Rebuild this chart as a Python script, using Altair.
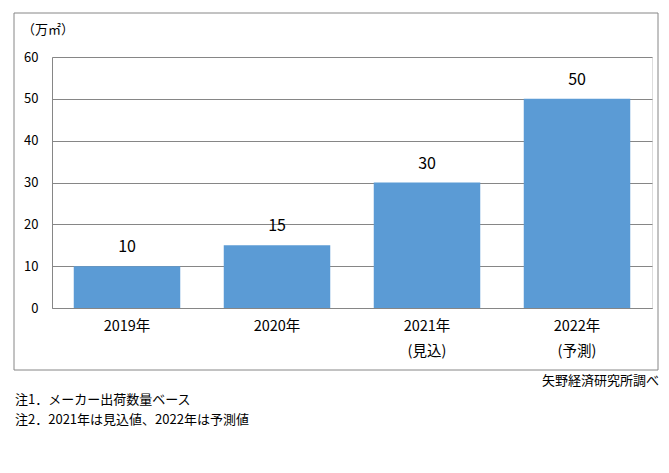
import altair as alt
import pandas as pd

categories = ["2019年", "2020年", "2021年\n(見込)", "2022年\n(予測)"]
values = [10, 15, 30, 50]
y_ticks = [0, 10, 20, 30, 40, 50, 60]
unit_label = "（万㎡）"
source_label = "矢野経済研究所調べ"
notes = ["注1．メーカー出荷数量ベース", "注2．2021年は見込値、2022年は予測値"]

FONT = "Noto Sans CJK JP"
GRAY = "#868686"

df = pd.DataFrame({"cat": categories, "val": values})

x_enc = alt.X("cat:N", sort=None, title=None,
              scale=alt.Scale(paddingInner=0.29, paddingOuter=0.145),
              axis=alt.Axis(labelAngle=0, labelExpr="split(datum.value, '\\n')",
                            labelLineHeight=25, labelPadding=11, ticks=False,
                            domainColor=GRAY, labelFontSize=14.5, labelColor="#000000",
                            labelFont=FONT, labelBaseline="top"))
y_enc = alt.Y("val:Q", title=None,
              scale=alt.Scale(domain=[0, 60], nice=False),
              axis=alt.Axis(values=y_ticks, ticks=False, labelPadding=14,
                            domainColor=GRAY, gridColor=GRAY, grid=True,
                            labelFontSize=13, labelColor="#000000", labelFont=FONT))

border = alt.Chart(pd.DataFrame({"a": [0]})).mark_rect(
    fill="transparent", stroke=GRAY, strokeWidth=1
).encode(x=alt.value(-38), x2=alt.value(606), y=alt.value(-44), y2=alt.value(313))

bars = alt.Chart(df).mark_bar(color="#5B9BD5").encode(x=x_enc, y=y_enc)

bar_labels = alt.Chart(df).mark_text(
    baseline="middle", dy=-19, fontSize=16, font=FONT, color="#000000"
).encode(x=alt.X("cat:N", sort=None), y="val:Q", text="val:Q")

unit = alt.Chart(pd.DataFrame({"t": [unit_label]})).mark_text(
    align="center", baseline="middle", fontSize=13, font=FONT, color="#000000"
).encode(x=alt.value(-4), y=alt.value(-27), text="t:N")

source = alt.Chart(pd.DataFrame({"t": [source_label]})).mark_text(
    align="right", baseline="middle", fontSize=13, font=FONT, color="#000000"
).encode(x=alt.value(607), y=alt.value(324), text="t:N")

note_layers = [
    alt.Chart(pd.DataFrame({"t": [n]})).mark_text(
        align="left", baseline="middle", fontSize=13, font=FONT, color="#000000"
    ).encode(x=alt.value(-37), y=alt.value(yy), text="t:N")
    for n, yy in zip(notes, [343, 363])
]

chart = alt.layer(border, bars, bar_labels, unit, source, *note_layers).properties(
    width=600, height=251,
    autosize=alt.AutoSizeParams(type="none"),
    padding={"left": 44, "top": 49, "right": 9, "bottom": 140},
).configure_view(strokeWidth=0).configure(background="#ffffff")

chart.save("out.html", embed_options={"renderer": "svg", "actions": False})
